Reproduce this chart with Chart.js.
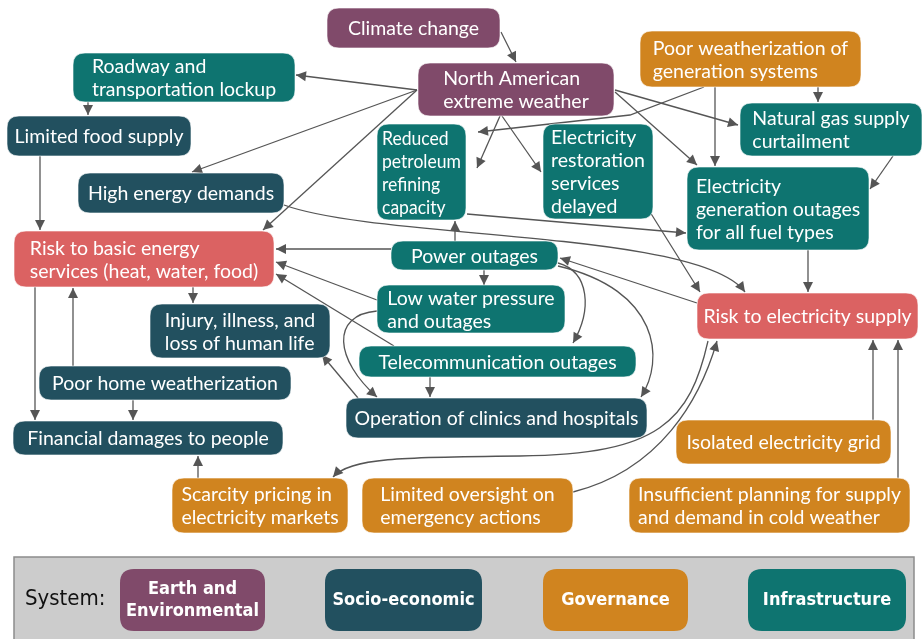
<!DOCTYPE html>
<html>
<head>
<meta charset="utf-8">
<script src="https://cdn.jsdelivr.net/npm/chart.js@4.4.0/dist/chart.umd.min.js"></script>
<style>
  html, body { margin: 0; padding: 0; background: #fff; }
  canvas { display: block; }
</style>
</head>
<body>
<canvas id="myChart" width="924" height="639"></canvas>
<script>
// ---- data ----
const nodeLabels = [
  'Climate change',
  'North American\nextreme weather',
  'Roadway and\ntransportation lockup',
  'Limited food supply',
  'High energy demands',
  'Reduced\npetroleum\nrefining\ncapacity',
  'Electricity\nrestoration\nservices\ndelayed',
  'Poor weatherization of\ngeneration systems',
  'Natural gas supply\ncurtailment',
  'Electricity\ngeneration outages\nfor all fuel types',
  'Risk to basic energy\nservices (heat, water, food)',
  'Power outages',
  'Low water pressure\nand outages',
  'Injury, illness, and\nloss of human life',
  'Telecommunication outages',
  'Risk to electricity supply',
  'Poor home weatherization',
  'Operation of clinics and hospitals',
  'Financial damages to people',
  'Isolated electricity grid',
  'Scarcity pricing in\nelectricity markets',
  'Limited oversight on\nemergency actions',
  'Insufficient planning for supply\nand demand in cold weather'
];
const nodeSystems = [
  'earth', 'earth', 'infra', 'socio', 'socio', 'infra', 'infra', 'gov', 'infra', 'infra',
  'risk', 'infra', 'infra', 'socio', 'infra', 'risk', 'socio', 'socio', 'socio', 'gov',
  'gov', 'gov', 'gov'
];
// cause -> effect
const links = [
  [0, 1], [1, 2], [1, 4], [1, 10], [1, 5], [1, 6], [1, 8], [1, 9],
  [7, 5], [7, 9], [7, 8], [8, 9], [2, 3], [3, 10], [4, 15], [5, 9],
  [6, 15], [9, 15], [11, 10], [11, 5], [11, 12], [11, 14], [11, 17], [15, 11],
  [12, 10], [14, 10], [12, 17], [14, 17], [17, 13], [10, 13], [10, 18], [16, 10],
  [16, 18], [20, 18], [15, 20], [21, 15], [19, 15], [22, 15]
];
const systemKeys = ['earth', 'socio', 'gov', 'infra'];
const systemNames = ['Earth and\nEnvironmental', 'Socio-economic', 'Governance', 'Infrastructure'];

// ---- layout (diagram units = pixels of a 924x639 sheet) ----
const colors = {
  earth: '#804a6a',
  socio: '#22505f',
  gov: '#d0841f',
  infra: '#0e7470',
  risk: '#db6262'
};
const boxes = [
  [327, 8, 500, 48], [418, 63, 614, 116], [73, 53, 295, 102], [7, 116, 191, 156],
  [78, 173, 284, 213], [377, 124, 466, 220], [543, 124, 653, 219], [640, 31, 861, 87],
  [740, 103, 922, 156], [687, 167, 869, 250], [14, 231, 274, 287], [391, 241, 558, 270],
  [377, 285, 565, 333], [150, 304, 330, 358], [359, 346, 636, 377], [697, 293, 918, 339],
  [39, 366, 291, 400], [346, 398, 647, 438], [13, 421, 283, 455], [676, 420, 891, 464],
  [172, 478, 348, 533], [362, 478, 573, 533], [629, 478, 910, 533]
];
const routes = [
  { pts: [[501, 32], [516, 62]] },
  { pts: [[417, 90], [296, 75]] },
  { pts: [[417, 90], [192, 172]] },
  { pts: [[417, 90], [263, 230]] },
  { pts: [[500, 116], [477, 168]] },
  { pts: [[502, 116], [541, 172]] },
  { pts: [[615, 90], [738, 125]] },
  { pts: [[615, 92], [697, 165]] },
  { pts: [[704, 87], [630, 115], [478, 132]] },
  { pts: [[715, 87], [715, 166]] },
  { pts: [[818, 87], [818, 102]] },
  { pts: [[893, 156], [870, 189]] },
  { pts: [[88, 102], [88, 115]] },
  { pts: [[40, 156], [40, 230]] },
  { curve: true, pts: [[284, 205], [380, 240], [700, 230], [745, 292]] },
  { pts: [[467, 214], [686, 233]] },
  { pts: [[650, 212], [700, 292]] },
  { pts: [[808, 250], [808, 292]] },
  { pts: [[391, 249], [276, 249]] },
  { pts: [[455, 241], [455, 221]] },
  { pts: [[484, 270], [484, 285]] },
  { curve: true, pts: [[558, 263], [590, 272], [592, 310], [573, 343]] },
  { curve: true, pts: [[558, 266], [660, 290], [665, 360], [641, 397]] },
  { pts: [[697, 303], [560, 258]] },
  { pts: [[377, 300], [276, 262]] },
  { pts: [[394, 346], [276, 274]] },
  { curve: true, pts: [[377, 311], [330, 315], [335, 360], [377, 397]] },
  { pts: [[430, 377], [430, 397]] },
  { pts: [[358, 398], [322, 355]] },
  { pts: [[193, 287], [193, 303]] },
  { pts: [[35, 287], [35, 420]] },
  { pts: [[73, 366], [73, 288]] },
  { pts: [[133, 400], [133, 420]] },
  { pts: [[198, 478], [198, 456]] },
  { curve: true, pts: [[708, 341], [690, 420], [660, 455], [520, 456], [400, 457], [350, 458], [333, 477]] },
  { curve: true, pts: [[573, 492], [660, 470], [700, 400], [717, 341]] },
  { pts: [[873, 420], [873, 340]] },
  { pts: [[898, 478], [898, 340]] }
];
const legendBoxes = [[120, 569, 265, 631], [325, 569, 482, 631], [543, 569, 688, 631], [748, 569, 906, 631]];

const FONT = '"Lato", "Open Sans", sans-serif';

function roundRect(ctx, x0, y0, x1, y1, r) {
  ctx.beginPath();
  ctx.moveTo(x0 + r, y0);
  ctx.lineTo(x1 - r, y0);
  ctx.quadraticCurveTo(x1, y0, x1, y0 + r);
  ctx.lineTo(x1, y1 - r);
  ctx.quadraticCurveTo(x1, y1, x1 - r, y1);
  ctx.lineTo(x0 + r, y1);
  ctx.quadraticCurveTo(x0, y1, x0, y1 - r);
  ctx.lineTo(x0, y0 + r);
  ctx.quadraticCurveTo(x0, y0, x0 + r, y0);
  ctx.closePath();
}

function arrowhead(ctx, from, to) {
  const a = Math.atan2(to[1] - from[1], to[0] - from[0]);
  const len = 10, half = 5;
  ctx.beginPath();
  ctx.moveTo(to[0], to[1]);
  ctx.lineTo(to[0] - len * Math.cos(a) + half * Math.sin(a), to[1] - len * Math.sin(a) - half * Math.cos(a));
  ctx.lineTo(to[0] - len * Math.cos(a) - half * Math.sin(a), to[1] - len * Math.sin(a) + half * Math.cos(a));
  ctx.closePath();
  ctx.fill();
}

// text block: lines left aligned, block centred in box, squeezed if too wide
function boxText(ctx, text, b, font, lineH) {
  const lines = text.split('\n');
  ctx.font = font;
  const w = Math.max(...lines.map(l => ctx.measureText(l).width));
  const avail = (b[2] - b[0]) - 10;
  const sx = w > avail ? avail / w : 1;
  const left = (b[0] + b[2]) / 2 - (w * sx) / 2;
  const top = (b[1] + b[3]) / 2 - (lines.length * lineH) / 2 + lineH / 2;
  ctx.textBaseline = 'middle';
  ctx.textAlign = 'left';
  lines.forEach((l, i) => {
    ctx.save();
    ctx.translate(left, top + i * lineH);
    ctx.scale(sx, 1);
    ctx.fillText(l, 0, 1);
    ctx.restore();
  });
}

const diagram = {
  id: 'diagram',
  beforeDatasetsDraw(chart) {
    const { ctx, scales: { x, y } } = chart;
    const px = p => [x.getPixelForValue(p[0]), y.getPixelForValue(p[1])];
    ctx.save();
    ctx.strokeStyle = '#555';
    ctx.fillStyle = '#555';
    ctx.lineWidth = 1.3;
    links.forEach((lk, i) => {
      const r = routes[i];
      const pts = r.pts.map(px);
      ctx.beginPath();
      ctx.moveTo(pts[0][0], pts[0][1]);
      if (r.curve) {
        for (let k = 1; k + 2 < pts.length; k += 3) {
          ctx.bezierCurveTo(pts[k][0], pts[k][1], pts[k + 1][0], pts[k + 1][1], pts[k + 2][0], pts[k + 2][1]);
        }
      } else {
        pts.slice(1).forEach(p => ctx.lineTo(p[0], p[1]));
      }
      ctx.stroke();
      arrowhead(ctx, pts[pts.length - 2], pts[pts.length - 1]);
    });
    ctx.restore();
  },
  afterDatasetsDraw(chart) {
    const { ctx, scales: { x, y } } = chart;
    const bx = b => [x.getPixelForValue(b[0]), y.getPixelForValue(b[1]), x.getPixelForValue(b[2]), y.getPixelForValue(b[3])];
    ctx.save();
    nodeLabels.forEach((label, i) => {
      const b = bx(boxes[i]);
      roundRect(ctx, b[0], b[1], b[2], b[3], 12);
      ctx.fillStyle = colors[nodeSystems[i]];
      ctx.fill();
      ctx.strokeStyle = 'rgba(255,255,255,0.6)';
      ctx.lineWidth = 1;
      ctx.stroke();
      ctx.fillStyle = '#fff';
      boxText(ctx, label, b, '19.5px ' + FONT, 23);
    });

    // legend panel
    const panel = bx([14, 557, 914, 650]);
    ctx.fillStyle = '#cccccc';
    ctx.strokeStyle = '#8c8c8c';
    ctx.lineWidth = 1.5;
    ctx.fillRect(panel[0], panel[1], panel[2] - panel[0], panel[3] - panel[1]);
    ctx.strokeRect(panel[0], panel[1], panel[2] - panel[0], panel[3] - panel[1]);
    ctx.fillStyle = '#111';
    ctx.font = '22px "DejaVu Sans Condensed", ' + FONT;
    ctx.textBaseline = 'middle';
    ctx.textAlign = 'left';
    ctx.fillText('System:', x.getPixelForValue(25), y.getPixelForValue(599));
    systemNames.forEach((name, i) => {
      const b = bx(legendBoxes[i]);
      roundRect(ctx, b[0], b[1], b[2], b[3], 14);
      ctx.fillStyle = colors[systemKeys[i]];
      ctx.fill();
      ctx.fillStyle = '#fff';
      const lines = name.split('\n');
      ctx.font = 'bold 18px "DejaVu Sans Condensed", ' + FONT;
      ctx.textAlign = 'center';
      const cx = (b[0] + b[2]) / 2, cy = (b[1] + b[3]) / 2;
      lines.forEach((l, k) => ctx.fillText(l, cx, cy + (k - (lines.length - 1) / 2) * 22));
    });
    ctx.restore();
  }
};

function draw() {
  const ctx = document.getElementById('myChart');
  new Chart(ctx, {
    type: 'scatter',
    data: {
      labels: nodeLabels,
      datasets: [{
        label: 'nodes',
        data: boxes.map(b => ({ x: (b[0] + b[2]) / 2, y: (b[1] + b[3]) / 2 })),
        pointRadius: 0,
        pointHoverRadius: 0
      }]
    },
    options: {
      responsive: false,
      animation: false,
      events: [],
      layout: { padding: 0 },
      plugins: { legend: { display: false }, tooltip: { enabled: false } },
      scales: {
        x: { type: 'linear', min: 0, max: 924, display: false },
        y: { type: 'linear', min: 0, max: 639, reverse: true, display: false }
      }
    },
    plugins: [diagram]
  });
}

Promise.all([
  document.fonts.load('18px Lato'),
  document.fonts.load('bold 17px "DejaVu Sans Condensed"'),
  document.fonts.load('22px "DejaVu Sans Condensed"')
]).then(draw, draw);
</script>
</body>
</html>
